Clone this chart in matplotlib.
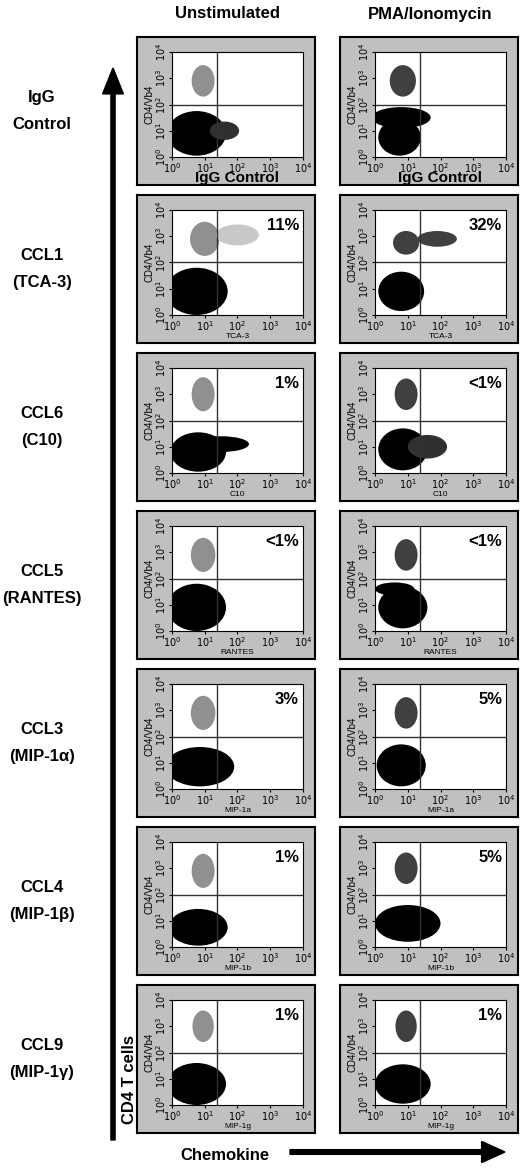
import matplotlib
matplotlib.use("Agg")
import matplotlib.pyplot as plt
from matplotlib.patches import Ellipse, Rectangle

row_labels = ["IgG\nControl", "CCL1\n(TCA-3)", "CCL6\n(C10)", "CCL5\n(RANTES)",
              "CCL3\n(MIP-1α)", "CCL4\n(MIP-1β)", "CCL9\n(MIP-1γ)"]
x_names = ["IgG Control", "TCA-3", "C10", "RANTES", "MIP-1a", "MIP-1b", "MIP-1g"]
col_titles = ["Unstimulated", "PMA/Ionomycin"]
pct_unstim = ["", "11%", "1%", "<1%", "3%", "1%", "1%"]
pct_stim = ["", "32%", "<1%", "<1%", "5%", "5%", "1%"]

# populations in log10 units: (x centre, y centre, x width, y height, shade)
pops_unstim = [
    [(0.95, 2.9, 0.7, 1.2, "#909090"), (0.75, 0.9, 1.8, 1.7, "black"), (1.6, 1.0, 0.9, 0.7, "#303030")],
    [(1.0, 2.9, 0.9, 1.3, "#909090"), (2.0, 3.05, 1.3, 0.8, "#c8c8c8"), (0.75, 0.9, 1.9, 1.8, "black")],
    [(0.95, 3.0, 0.7, 1.3, "#909090"), (0.8, 0.8, 1.7, 1.5, "black"), (1.5, 1.1, 1.7, 0.6, "black")],
    [(0.95, 2.9, 0.75, 1.3, "#909090"), (0.75, 0.9, 1.8, 1.8, "black")],
    [(0.95, 2.9, 0.75, 1.3, "#909090"), (0.85, 0.85, 2.1, 1.5, "black")],
    [(0.95, 2.9, 0.7, 1.3, "#909090"), (0.8, 0.75, 1.8, 1.4, "black")],
    [(0.95, 3.0, 0.65, 1.2, "#909090"), (0.75, 0.8, 1.8, 1.6, "black")],
]
pops_stim = [
    [(0.85, 2.9, 0.8, 1.2, "#404040"), (0.75, 0.75, 1.3, 1.4, "black"), (0.8, 1.5, 1.8, 0.8, "black")],
    [(0.95, 2.75, 0.8, 0.9, "#404040"), (1.9, 2.9, 1.2, 0.6, "#404040"), (0.8, 0.9, 1.4, 1.5, "black")],
    [(0.95, 3.0, 0.7, 1.2, "#404040"), (0.85, 0.9, 1.5, 1.6, "black"), (1.6, 1.0, 1.2, 0.9, "#303030")],
    [(0.95, 2.9, 0.7, 1.2, "#404040"), (0.85, 0.9, 1.5, 1.6, "black"), (0.6, 1.6, 1.2, 0.5, "black")],
    [(0.95, 2.9, 0.7, 1.2, "#404040"), (0.8, 0.9, 1.5, 1.6, "black")],
    [(0.95, 3.0, 0.7, 1.2, "#404040"), (1.0, 0.9, 2.0, 1.4, "black")],
    [(0.95, 3.0, 0.65, 1.2, "#404040"), (0.85, 0.8, 1.7, 1.5, "black")],
]
quad_x = 1.37
quad_y = 2.0

W, H = 520, 1176
fig = plt.figure(figsize=(W / 100, H / 100), dpi=100)
plt.rcParams['font.family'] = ['Liberation Sans', 'DejaVu Sans']


def fx(px):
    return px / W


def fy(py):
    return 1 - py / H


col_left = [137, 340]
pw, ph = 178, 148
row_top = [37, 195, 353, 511, 669, 827, 985]

for c, title in enumerate(col_titles):
    fig.text(fx(col_left[c] + 90), fy(14), title, ha="center", va="center",
             fontsize=12, fontweight="bold")

for r in range(7):
    fig.text(fx(42), fy(row_top[r] + 74), row_labels[r], ha="center", va="center",
             fontsize=12, fontweight="bold", linespacing=2.0)
    for c in range(2):
        x0, y0 = col_left[c], row_top[r]
        bg = fig.add_axes([fx(x0), fy(y0 + ph), pw / W, ph / H])
        bg.set_facecolor("#c0c0c0")
        bg.set_xticks([]); bg.set_yticks([])
        for s in bg.spines.values():
            s.set_linewidth(1.5)
        ax = fig.add_axes([fx(x0 + 35), fy(y0 + 120), 131 / W, 105 / H])
        pops = pops_unstim[r] if c == 0 else pops_stim[r]
        for (cx, cy, wx, wy, col) in pops:
            ax.add_patch(Ellipse((cx, cy), wx, wy, color=col, lw=0))
        ax.axvline(quad_x, color="#333333", lw=1)
        ax.axhline(quad_y, color="#333333", lw=1)
        ax.set_xlim(0, 4); ax.set_ylim(0, 4)
        ticks = [0, 1, 2, 3, 4]
        labs = ["$10^{%d}$" % t for t in ticks]
        ax.set_xticks(ticks); ax.set_xticklabels(labs, fontsize=7)
        ax.set_yticks(ticks); ax.set_yticklabels(labs, fontsize=7, rotation=90, va="center")
        ax.tick_params(length=2, pad=1)
        ax.set_ylabel("CD4/Vb4", fontsize=7, labelpad=0)
        if r == 0:
            ax.set_xlabel(x_names[r], fontsize=11, fontweight="bold", labelpad=-3)
        else:
            ax.set_xlabel(x_names[r], fontsize=6, labelpad=0)
        pct = pct_unstim[r] if c == 0 else pct_stim[r]
        ax.text(0.97, 0.92, pct, transform=ax.transAxes, ha="right", va="top",
                fontsize=12, fontweight="bold")

# axis arrows
fig.add_artist(matplotlib.patches.FancyArrow(fx(113), fy(1140), 0, fy(68) - fy(1140),
               width=0.008, head_width=0.04, head_length=0.022, color="black",
               length_includes_head=True, transform=fig.transFigure))
fig.text(fx(129), fy(1080), "CD4 T cells", rotation=90, ha="center", va="center",
         fontsize=12, fontweight="bold")
fig.add_artist(matplotlib.patches.FancyArrow(fx(290), fy(1152), fx(505) - fx(290), 0,
               width=0.004, head_width=0.018, head_length=0.045, color="black",
               length_includes_head=True, transform=fig.transFigure))
fig.text(fx(225), fy(1155), "Chemokine", ha="center", va="center",
         fontsize=12, fontweight="bold")

fig.savefig("out.png", dpi=100)
